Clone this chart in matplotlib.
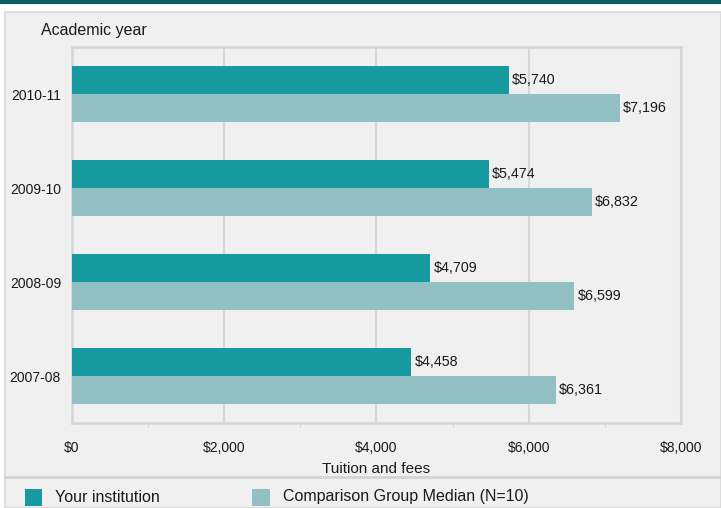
import matplotlib.pyplot as plt
import matplotlib.patches as patches
from matplotlib.lines import Line2D
from matplotlib.ticker import FuncFormatter, MultipleLocator

plt.rcParams['font.family'] = ['Liberation Sans', 'DejaVu Sans']

years = ['2010-11', '2009-10', '2008-09', '2007-08']
your_institution = [5740, 5474, 4709, 4458]
comparison_median = [7196, 6832, 6599, 6361]
x_ticks = [0, 2000, 4000, 6000, 8000]

TEAL = '#169a9f'
LIGHT = '#92c0c5'
PANEL = '#f0f0f0'
GRID = '#d6d6d6'
TEXT = '#1a1a1a'

W, H = 721, 508
fig = plt.figure(figsize=(W / 100, H / 100), dpi=100)
fig.patch.set_facecolor('white')

# panel background and decorations (figure pixel coords)
def px(x, y):
    return x / W, 1 - y / H

fig.patches.append(patches.Rectangle(px(5, 508), 716 / W, 496 / H, transform=fig.transFigure,
                                     facecolor=PANEL, edgecolor='#d8d8d8', linewidth=1.2, zorder=-5))
fig.lines.append(Line2D([0, 1], [1 - 1.5 / H] * 2, transform=fig.transFigure, color='#0b5f60', linewidth=3))
fig.lines.append(Line2D([5 / W, 1], [1 - 477 / H] * 2, transform=fig.transFigure, color='#d4d4d4', linewidth=2))

left, right, top, bottom = 72, 681, 47, 423
ax = fig.add_axes([left / W, 1 - bottom / H, (right - left) / W, (bottom - top) / H])
ax.set_facecolor(PANEL)

ys = list(range(len(years)))
h = 0.30
ax.barh([y - h / 2 for y in ys], your_institution, height=h, color=TEAL, zorder=3)
ax.barh([y + h / 2 for y in ys], comparison_median, height=h, color=LIGHT, zorder=3)

for y, v in zip(ys, your_institution):
    ax.text(v + 40, y - h / 2, f'${v:,}', va='center', ha='left', fontsize=10.3, color=TEXT, zorder=4)
for y, v in zip(ys, comparison_median):
    ax.text(v + 40, y + h / 2, f'${v:,}', va='center', ha='left', fontsize=10.3, color=TEXT, zorder=4)

ax.set_xlim(0, 8000)
ax.set_ylim(len(years) - 0.5, -0.5)
ax.set_xticks(x_ticks)
ax.xaxis.set_minor_locator(MultipleLocator(1000))
ax.xaxis.set_major_formatter(FuncFormatter(lambda v, p: f'${v:,.0f}'))
ax.set_yticks(ys)
ax.set_yticklabels(years)
ax.tick_params(axis='y', length=0, pad=8, labelsize=10, labelcolor=TEXT)
ax.tick_params(axis='x', which='major', length=0, pad=13, labelsize=10, labelcolor=TEXT)
ax.tick_params(axis='x', which='minor', length=3, width=1, color=GRID, direction='out')
ax.grid(axis='x', which='major', color=GRID, linewidth=1.5, zorder=0)
for s in ax.spines.values():
    s.set_color(GRID)
    s.set_linewidth(1.8)

ax.set_xlabel('Tuition and fees', fontsize=11, color=TEXT, labelpad=5)
fig.text(41 / W, 1 - 31 / H, 'Academic year', fontsize=11.5, color=TEXT, va='center', ha='left')

# legend
fig.patches.append(patches.Rectangle(px(25, 506), 17 / W, 17 / H, transform=fig.transFigure,
                                     facecolor=TEAL, edgecolor='none'))
fig.text(55 / W, 1 - 497 / H, 'Your institution', fontsize=11.5, color=TEXT, va='center', ha='left')
fig.patches.append(patches.Rectangle(px(252, 506), 18 / W, 17 / H, transform=fig.transFigure,
                                     facecolor=LIGHT, edgecolor='none'))
fig.text(283 / W, 1 - 497 / H, 'Comparison Group Median (N=10)', fontsize=11.5, color=TEXT,
         va='center', ha='left')

fig.savefig('out.png', dpi=100)
